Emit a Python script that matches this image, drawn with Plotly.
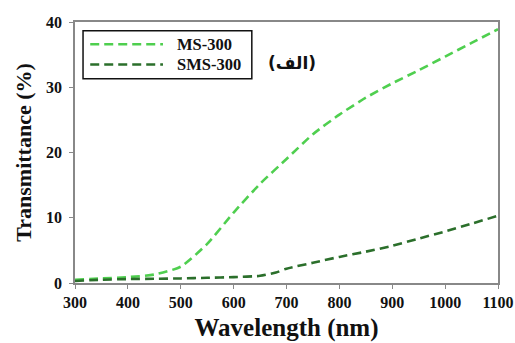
import plotly.graph_objects as go

wl_ms = [300, 350, 400, 450, 500, 550, 600, 650, 700, 750, 800, 850, 900, 950, 1000, 1050, 1100]
t_ms = [0.5, 0.7, 0.9, 1.3, 2.5, 6.0, 10.8, 15.2, 19.0, 22.8, 25.8, 28.4, 30.6, 32.6, 34.7, 36.8, 38.9]

wl_sms = [300, 350, 400, 450, 500, 550, 600, 650, 680, 700, 750, 800, 850, 900, 950, 1000, 1050, 1100]
t_sms = [0.3, 0.5, 0.6, 0.65, 0.7, 0.8, 0.9, 1.1, 1.6, 2.2, 3.1, 4.0, 4.8, 5.7, 6.8, 7.9, 9.1, 10.3]

series_names = ["MS-300", "SMS-300"]
series_colors = ["#4fcf4f", "#2b6f2b"]

x_ticks = [300, 400, 500, 600, 700, 800, 900, 1000, 1100]
y_ticks = [0, 10, 20, 30, 40]

serif = "Liberation Serif"
dash = "9px,5px"

fig = go.Figure()
for name, xs, ys, col in zip(series_names, [wl_ms, wl_sms], [t_ms, t_sms], series_colors):
    fig.add_trace(go.Scatter(x=xs, y=ys, mode="lines", name=name, showlegend=False,
                             line=dict(color=col, width=2.6, dash=dash, shape="spline", smoothing=0.6)))

# custom legend (box, line samples, labels) in paper coordinates
shapes = [dict(type="rect", xref="paper", yref="paper", x0=0.019, x1=0.418, y0=0.783, y1=0.966,
               line=dict(color="#111", width=1.5), fillcolor="white", layer="above")]
annotations = []
for i, (name, col) in enumerate(zip(series_names, series_colors)):
    yy = 0.915 - i * 0.078
    shapes.append(dict(type="line", xref="paper", yref="paper", x0=0.036, x1=0.208, y0=yy, y1=yy,
                       line=dict(color=col, width=2.6, dash=dash), layer="above"))
    annotations.append(dict(text=name, x=0.236, y=yy, xref="paper", yref="paper", xanchor="left",
                            yanchor="middle", showarrow=False,
                            font=dict(family=serif, size=16.5, weight="bold", color="#111")))
annotations.append(dict(text="(الف)", x=0.514, y=0.889, xref="paper", yref="paper",
                        showarrow=False, font=dict(family="DejaVu Sans", size=17, weight="bold", color="#111")))

fig.update_layout(
    width=515, height=343,
    margin=dict(l=75, r=17, t=22, b=60),
    plot_bgcolor="white", paper_bgcolor="white",
    font=dict(family=serif, color="#111", size=13),
    showlegend=False,
    shapes=shapes,
    annotations=annotations,
    xaxis=dict(range=[300, 1100], tickvals=x_ticks, ticks="outside", ticklen=4,
               tickcolor="#888", linecolor="#888", linewidth=1.5, mirror=True,
               showgrid=False, zeroline=False, automargin=False,
               tickfont=dict(family=serif, size=16, weight="bold", color="#111"),
               title=dict(text="Wavelength (nm)", font=dict(family=serif, size=25, weight="bold", color="#111"), standoff=9)),
    yaxis=dict(range=[0, 40], tickvals=y_ticks, ticks="outside", ticklen=4,
               tickcolor="#888", linecolor="#888", linewidth=1.5, mirror=True,
               showgrid=False, zeroline=False, ticklabelstandoff=4, automargin=False,
               tickfont=dict(family=serif, size=16, weight="bold", color="#111"),
               title=dict(text="Transmittance (%)", font=dict(family=serif, size=22, weight="bold", color="#111"), standoff=8)),
)

fig.write_html("out.html")
